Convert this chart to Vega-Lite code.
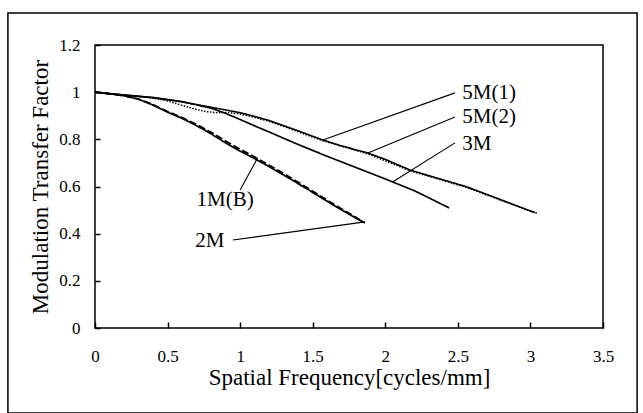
{
  "$schema": "https://vega.github.io/schema/vega-lite/v6.json",
  "width": 508,
  "height": 283,
  "autosize": {"type": "none"},
  "padding": {"left": 95, "top": 45, "right": 40, "bottom": 85},
  "background": "white",
  "config": {
    "view": {"stroke": "black", "strokeWidth": 1.5},
    "font": "Liberation Serif",
    "axis": {
      "labelFont": "Liberation Serif",
      "titleFont": "Liberation Serif",
      "labelColor": "black",
      "titleColor": "black",
      "labelFontSize": 17,
      "titleFontSize": 23,
      "titleFontWeight": "normal",
      "domain": false,
      "ticks": true,
      "tickColor": "black",
      "tickWidth": 1.5,
      "grid": false
    }
  },
  "datasets": {
    "curves": [
      {"series": "2M", "x": 0, "y": 1.0},
      {"series": "2M", "x": 0.1, "y": 0.993},
      {"series": "2M", "x": 0.2, "y": 0.985},
      {"series": "2M", "x": 0.3, "y": 0.97},
      {"series": "2M", "x": 0.4, "y": 0.945},
      {"series": "2M", "x": 0.5, "y": 0.915},
      {"series": "2M", "x": 0.6, "y": 0.889},
      {"series": "2M", "x": 0.7, "y": 0.858},
      {"series": "2M", "x": 0.8, "y": 0.823},
      {"series": "2M", "x": 0.9, "y": 0.785},
      {"series": "2M", "x": 1.0, "y": 0.75},
      {"series": "2M", "x": 1.1, "y": 0.718},
      {"series": "2M", "x": 1.2, "y": 0.684},
      {"series": "2M", "x": 1.3, "y": 0.649},
      {"series": "2M", "x": 1.4, "y": 0.612},
      {"series": "2M", "x": 1.5, "y": 0.575},
      {"series": "2M", "x": 1.6, "y": 0.537},
      {"series": "2M", "x": 1.7, "y": 0.5},
      {"series": "2M", "x": 1.8, "y": 0.465},
      {"series": "2M", "x": 1.86, "y": 0.445},

      {"series": "1M(B)", "x": 0, "y": 1.0},
      {"series": "1M(B)", "x": 0.1, "y": 0.993},
      {"series": "1M(B)", "x": 0.2, "y": 0.985},
      {"series": "1M(B)", "x": 0.3, "y": 0.971},
      {"series": "1M(B)", "x": 0.4, "y": 0.947},
      {"series": "1M(B)", "x": 0.5, "y": 0.918},
      {"series": "1M(B)", "x": 0.6, "y": 0.892},
      {"series": "1M(B)", "x": 0.7, "y": 0.863},
      {"series": "1M(B)", "x": 0.8, "y": 0.83},
      {"series": "1M(B)", "x": 0.9, "y": 0.793},
      {"series": "1M(B)", "x": 1.0, "y": 0.758},
      {"series": "1M(B)", "x": 1.1, "y": 0.725},
      {"series": "1M(B)", "x": 1.2, "y": 0.69},
      {"series": "1M(B)", "x": 1.3, "y": 0.655},
      {"series": "1M(B)", "x": 1.4, "y": 0.618},
      {"series": "1M(B)", "x": 1.5, "y": 0.58},
      {"series": "1M(B)", "x": 1.6, "y": 0.542},
      {"series": "1M(B)", "x": 1.7, "y": 0.505},
      {"series": "1M(B)", "x": 1.8, "y": 0.468},
      {"series": "1M(B)", "x": 1.85, "y": 0.45},

      {"series": "3M", "x": 0, "y": 1.0},
      {"series": "3M", "x": 0.2, "y": 0.988},
      {"series": "3M", "x": 0.4, "y": 0.977},
      {"series": "3M", "x": 0.6, "y": 0.96},
      {"series": "3M", "x": 0.8, "y": 0.932},
      {"series": "3M", "x": 0.9, "y": 0.91},
      {"series": "3M", "x": 1.0, "y": 0.884},
      {"series": "3M", "x": 1.1, "y": 0.857},
      {"series": "3M", "x": 1.2, "y": 0.831},
      {"series": "3M", "x": 1.4, "y": 0.778},
      {"series": "3M", "x": 1.6, "y": 0.728},
      {"series": "3M", "x": 1.8, "y": 0.68},
      {"series": "3M", "x": 2.0, "y": 0.632},
      {"series": "3M", "x": 2.1, "y": 0.607},
      {"series": "3M", "x": 2.2, "y": 0.582},
      {"series": "3M", "x": 2.3, "y": 0.552},
      {"series": "3M", "x": 2.44, "y": 0.509},

      {"series": "5M(1)", "x": 0, "y": 1.0},
      {"series": "5M(1)", "x": 0.2, "y": 0.988},
      {"series": "5M(1)", "x": 0.4, "y": 0.977},
      {"series": "5M(1)", "x": 0.57, "y": 0.962},
      {"series": "5M(1)", "x": 0.8, "y": 0.936},
      {"series": "5M(1)", "x": 1.0, "y": 0.913},
      {"series": "5M(1)", "x": 1.1, "y": 0.897},
      {"series": "5M(1)", "x": 1.2, "y": 0.88},
      {"series": "5M(1)", "x": 1.4, "y": 0.836},
      {"series": "5M(1)", "x": 1.57, "y": 0.797},
      {"series": "5M(1)", "x": 1.7, "y": 0.772},
      {"series": "5M(1)", "x": 1.88, "y": 0.742},
      {"series": "5M(1)", "x": 2.0, "y": 0.715},
      {"series": "5M(1)", "x": 2.17, "y": 0.67},
      {"series": "5M(1)", "x": 2.3, "y": 0.646},
      {"series": "5M(1)", "x": 2.56, "y": 0.599},
      {"series": "5M(1)", "x": 2.8, "y": 0.543},
      {"series": "5M(1)", "x": 3.03, "y": 0.489},

      {"series": "5M(2)", "x": 0, "y": 1.0},
      {"series": "5M(2)", "x": 0.2, "y": 0.987},
      {"series": "5M(2)", "x": 0.4, "y": 0.975},
      {"series": "5M(2)", "x": 0.5, "y": 0.963},
      {"series": "5M(2)", "x": 0.6, "y": 0.944},
      {"series": "5M(2)", "x": 0.68, "y": 0.93},
      {"series": "5M(2)", "x": 0.76, "y": 0.918},
      {"series": "5M(2)", "x": 0.84, "y": 0.913},
      {"series": "5M(2)", "x": 0.92, "y": 0.914},
      {"series": "5M(2)", "x": 1.0, "y": 0.907},
      {"series": "5M(2)", "x": 1.1, "y": 0.893},
      {"series": "5M(2)", "x": 1.2, "y": 0.876},
      {"series": "5M(2)", "x": 1.4, "y": 0.832},
      {"series": "5M(2)", "x": 1.57, "y": 0.794},
      {"series": "5M(2)", "x": 1.88, "y": 0.738},
      {"series": "5M(2)", "x": 2.17, "y": 0.667},
      {"series": "5M(2)", "x": 2.56, "y": 0.596},
      {"series": "5M(2)", "x": 2.8, "y": 0.541},
      {"series": "5M(2)", "x": 3.05, "y": 0.485}
    ],
    "leaders": [
      {"label": "5M(1)", "x": 2.48, "y": 0.997, "x2": 1.57, "y2": 0.797},
      {"label": "5M(2)", "x": 2.48, "y": 0.895, "x2": 1.88, "y2": 0.742},
      {"label": "3M", "x": 2.48, "y": 0.785, "x2": 2.05, "y2": 0.619},
      {"label": "1M(B)", "x": 1.0, "y": 0.585, "x2": 1.12, "y2": 0.721},
      {"label": "2M", "x": 0.95, "y": 0.373, "x2": 1.86, "y2": 0.45}
    ],
    "labels": [
      {"label": "5M(1)", "x": 2.53, "y": 0.995},
      {"label": "5M(2)", "x": 2.53, "y": 0.893},
      {"label": "3M", "x": 2.53, "y": 0.782},
      {"label": "1M(B)", "x": 0.7, "y": 0.543},
      {"label": "2M", "x": 0.69, "y": 0.369}
    ],
    "frame": [
      {"x": -0.6, "x2": 3.735, "y": -0.36, "y2": 1.336}
    ]
  },
  "layer": [
    {
      "data": {"name": "curves"},
      "mark": {"type": "line", "color": "black"},
      "encoding": {
        "x": {
          "field": "x", "type": "quantitative",
          "scale": {"domain": [0, 3.5], "nice": false},
          "axis": {
            "title": "Spatial Frequency[cycles/mm]",
            "values": [0, 0.5, 1, 1.5, 2, 2.5, 3, 3.5],
            "format": "~g",
            "labelFont": "Liberation Serif",
            "labelFontSize": 17,
            "titleFont": "Liberation Serif",
            "offset": -6,
            "ticks": true,
            "tickSize": 6,
            "tickWidth": 1.5,
            "tickColor": "black",
            "labelPadding": 20,
            "titlePadding": 2,
            "labelFlush": false
          }
        },
        "y": {
          "field": "y", "type": "quantitative",
          "scale": {"domain": [0, 1.2], "nice": false},
          "axis": {
            "title": "Modulation Transfer Factor",
            "values": [0, 0.2, 0.4, 0.6, 0.8, 1, 1.2],
            "format": "~g",
            "labelFont": "Liberation Serif",
            "labelFontSize": 17,
            "titleFont": "Liberation Serif",
            "offset": -5,
            "ticks": true,
            "tickSize": 5,
            "tickWidth": 1.5,
            "tickColor": "black",
            "labelPadding": 15,
            "titlePadding": 6,
            "labelFlush": false
          }
        },
        "detail": {"field": "series"},
        "strokeDash": {
          "field": "series", "type": "nominal", "legend": null,
          "scale": {"domain": ["1M(B)", "2M", "3M", "5M(1)", "5M(2)"], "range": [[7, 3], [1, 0], [1, 0], [1, 0], [1.5, 1.5]]}
        },
        "strokeWidth": {
          "field": "series", "type": "nominal", "legend": null,
          "scale": {"domain": ["1M(B)", "2M", "3M", "5M(1)", "5M(2)"], "range": [1.8, 1.5, 2.5, 1.1, 2]}
        }
      }
    },
    {
      "data": {"name": "frame"},
      "mark": {"type": "rect", "fill": null, "fillOpacity": 0, "stroke": "black", "strokeWidth": 1.5, "clip": false},
      "encoding": {
        "x": {"field": "x", "type": "quantitative"},
        "x2": {"field": "x2"},
        "y": {"field": "y", "type": "quantitative"},
        "y2": {"field": "y2"}
      }
    },
    {
      "data": {"name": "leaders"},
      "mark": {"type": "rule", "color": "black", "strokeWidth": 1.1},
      "encoding": {
        "x": {"field": "x", "type": "quantitative"},
        "y": {"field": "y", "type": "quantitative"},
        "x2": {"field": "x2"},
        "y2": {"field": "y2"}
      }
    },
    {
      "data": {"name": "labels"},
      "mark": {"type": "text", "align": "left", "baseline": "middle", "font": "Liberation Serif", "fontSize": 21, "color": "black"},
      "encoding": {
        "x": {"field": "x", "type": "quantitative"},
        "y": {"field": "y", "type": "quantitative"},
        "text": {"field": "label"}
      }
    }
  ]
}
